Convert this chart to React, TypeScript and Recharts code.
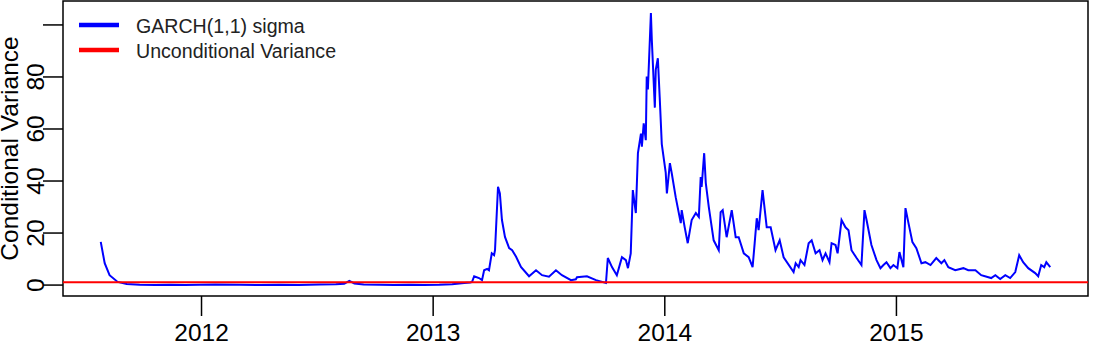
import { LineChart, Line, XAxis, YAxis, ReferenceArea, ReferenceLine } from "recharts";

// decimal years of the observations
const years = [
  2011.565, 2011.582, 2011.603, 2011.638, 2011.677, 2011.733, 2011.8, 2011.862, 2011.93, 2011.991,
  2012.06, 2012.164, 2012.25, 2012.336, 2012.42, 2012.509, 2012.58, 2012.616, 2012.638, 2012.66,
  2012.7, 2012.767, 2012.83, 2012.897, 2012.96, 2013.026, 2013.082, 2013.134, 2013.16, 2013.168,
  2013.177, 2013.198, 2013.211, 2013.22, 2013.233, 2013.241, 2013.253, 2013.263, 2013.267, 2013.28,
  2013.288, 2013.297, 2013.31, 2013.328, 2013.341, 2013.358, 2013.379, 2013.414, 2013.444, 2013.47,
  2013.5, 2013.53, 2013.556, 2013.595, 2013.616, 2013.621, 2013.664, 2013.703, 2013.746, 2013.754,
  2013.772, 2013.793, 2013.815, 2013.832, 2013.841, 2013.853, 2013.862, 2013.875, 2013.884, 2013.897,
  2013.901, 2013.909, 2013.918, 2013.922, 2013.927, 2013.94, 2013.944, 2013.957, 2013.961, 2013.97,
  2013.978, 2013.987, 2014.004, 2014.009, 2014.022, 2014.03, 2014.047, 2014.069, 2014.073, 2014.086,
  2014.099, 2014.116, 2014.134, 2014.147, 2014.155, 2014.159, 2014.17, 2014.177, 2014.19, 2014.211,
  2014.233, 2014.241, 2014.25, 2014.267, 2014.289, 2014.306, 2014.319, 2014.341, 2014.362, 2014.379,
  2014.388, 2014.397, 2014.405, 2014.422, 2014.44, 2014.457, 2014.478, 2014.496, 2014.513, 2014.556,
  2014.565, 2014.578, 2014.586, 2014.603, 2014.621, 2014.634, 2014.651, 2014.668, 2014.681, 2014.694,
  2014.711, 2014.72, 2014.737, 2014.746, 2014.763, 2014.78, 2014.793, 2014.806, 2014.828, 2014.849,
  2014.862, 2014.871, 2014.892, 2014.914, 2014.931, 2014.944, 2014.957, 2014.974, 2014.987, 2015.004,
  2015.013, 2015.03, 2015.039, 2015.052, 2015.069, 2015.086, 2015.108, 2015.125, 2015.147, 2015.172,
  2015.194, 2015.207, 2015.224, 2015.254, 2015.289, 2015.31, 2015.341, 2015.366, 2015.409, 2015.427,
  2015.448, 2015.47, 2015.491, 2015.513, 2015.53, 2015.547, 2015.569, 2015.599, 2015.612, 2015.625,
  2015.638, 2015.647, 2015.664,
];

// GARCH(1,1) conditional variance
const sigma = [
  16.6, 8.4, 3.8, 1.2, 0.4, 0.1, 0.0, 0.1, 0.0, 0.1,
  0.2, 0.1, 0.0, 0.1, 0.0, 0.2, 0.3, 0.5, 1.6, 0.6,
  0.2, 0.1, 0.0, 0.1, 0.0, 0.1, 0.3, 0.8, 1.0, 1.2,
  3.4, 2.7, 1.9, 5.7, 6.2, 5.7, 12.2, 11.5, 13.4, 37.8,
  35.2, 25.0, 18.5, 14.2, 13.4, 10.9, 7.0, 3.4, 5.7, 3.8,
  3.2, 5.7, 3.8, 1.9, 2.2, 3.0, 3.4, 1.9, 0.8, 10.4,
  6.9, 3.8, 10.7, 9.6, 6.5, 12.2, 36.5, 27.7, 50.7, 58.2,
  53.2, 62.2, 55.7, 80.2, 75.2, 104.6, 94.2, 68.2, 82.7, 87.2,
  72.2, 54.2, 43.2, 35.2, 46.9, 43.0, 33.8, 23.8, 28.8, 22.2,
  16.1, 25.0, 27.7, 26.2, 41.5, 37.7, 50.7, 39.2, 30.0, 17.2,
  13.4, 28.0, 28.8, 18.4, 28.8, 18.4, 18.4, 12.2, 10.7, 6.9,
  16.1, 25.7, 21.1, 36.5, 22.2, 22.2, 13.4, 17.2, 10.7, 5.0,
  8.4, 6.9, 9.6, 7.7, 16.1, 17.2, 12.2, 13.4, 9.6, 12.2,
  8.8, 16.1, 15.4, 12.2, 25.0, 22.2, 21.1, 13.4, 10.4, 7.7,
  28.8, 25.0, 15.4, 9.6, 6.5, 7.7, 8.8, 6.5, 7.7, 6.5,
  12.7, 6.9, 29.6, 23.8, 16.5, 14.2, 8.4, 8.8, 7.7, 10.4,
  8.4, 9.6, 6.9, 5.7, 6.5, 5.7, 5.7, 3.8, 2.7, 3.8,
  2.3, 3.8, 2.7, 5.0, 11.5, 8.8, 6.5, 4.6, 3.4, 7.7,
  6.9, 8.8, 6.9,
];

const unconditionalVariance = 1.1;

const xTicks = [2012, 2013, 2014, 2015];
const yTicks = [0, 20, 40, 60, 80, 100];
const xDomain = [2011.402, 2015.827];
const yDomain = [-4.2, 109.2];

const legendItems = [
  { label: "GARCH(1,1) sigma", color: "#0000ff" },
  { label: "Unconditional Variance", color: "#ff0000" },
];

const data = years.map((t, i) => ({ t, sigma: sigma[i] }));

const FONT = "'Liberation Sans', Arial, sans-serif";

const YTick = ({ x, y, payload }: any) => {
  if (payload.value === 100) return null;
  return (
    <text
      transform={`translate(${x + 0.5},${y}) rotate(-90)`}
      textAnchor="middle"
      fontSize={24.5}
      fill="#000"
    >
      {payload.value}
    </text>
  );
};

const YLabel = ({ viewBox }: any) => {
  const cy = viewBox ? viewBox.y + viewBox.height / 2 : 148.5;
  return (
    <text
      transform={`translate(18,${cy}) rotate(-90)`}
      textAnchor="middle"
      fontSize={24.5}
      fill="#000"
    >
      Conditional Variance
    </text>
  );
};

export default function App() {
  return (
    <div style={{ position: "relative", width: 1095, height: 350, fontFamily: FONT, background: "#fff" }}>
      <style>{"body{margin:0}"}</style>
      <LineChart
        width={1095}
        height={350}
        data={data}
        margin={{ top: 1, right: 7, bottom: 0, left: 0 }}
      >
        <XAxis
          type="number"
          dataKey="t"
          domain={xDomain}
          ticks={xTicks}
          allowDataOverflow
          axisLine={false}
          tickLine={{ stroke: "#000", strokeWidth: 1.5 }}
          tickSize={20}
          tickMargin={8}
          height={54}
          tick={{ fill: "#000", fontSize: 24.5 }}
        />
        <YAxis
          type="number"
          domain={yDomain}
          ticks={yTicks}
          allowDataOverflow
          axisLine={false}
          tickLine={{ stroke: "#000", strokeWidth: 1.5 }}
          tickSize={20}
          tickMargin={0}
          width={63}
          tick={<YTick />}
          label={<YLabel />}
        />
        <Line
          type="linear"
          dataKey="sigma"
          stroke="#0000ff"
          strokeWidth={2}
          dot={false}
          isAnimationActive={false}
        />
        <ReferenceLine y={unconditionalVariance} stroke="#ff0000" strokeWidth={2} ifOverflow="visible" />
        <ReferenceArea
          x1={xDomain[0]}
          x2={xDomain[1]}
          y1={yDomain[0]}
          y2={yDomain[1]}
          fill="none"
          stroke="#000"
          strokeWidth={1.5}
          ifOverflow="visible"
        />
      </LineChart>
      <svg
        width={400}
        height={70}
        style={{ position: "absolute", left: 0, top: 0, pointerEvents: "none" }}
      >
        {legendItems.map((item, i) => (
          <g key={item.label}>
            <line x1={79} x2={119} y1={25 + i * 25} y2={25 + i * 25} stroke={item.color} strokeWidth={4.5} />
            <text x={136} y={32.5 + i * 25} fontSize={19.6} fill="#222" fontFamily={FONT}>
              {item.label}
            </text>
          </g>
        ))}
      </svg>
    </div>
  );
}
